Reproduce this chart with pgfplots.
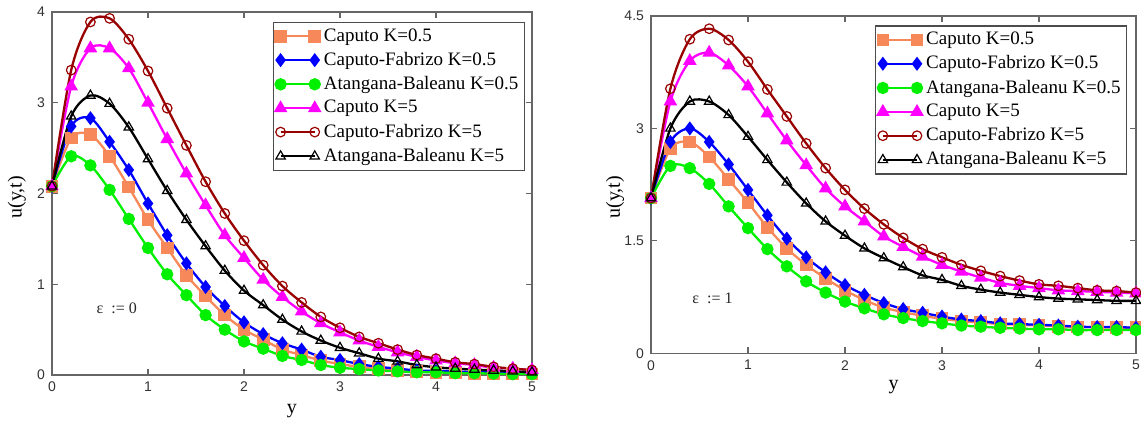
\documentclass[border=0pt]{standalone}
\usepackage{fontspec}
\setmainfont{Liberation Serif}
\newfontfamily\ticksans{Liberation Sans}
\usepackage{pgfplots}
\pgfplotsset{compat=1.18}
\usepackage{pgfplotstable}

\definecolor{corange}{HTML}{F7885A}
\definecolor{cblue}{HTML}{0000FF}
\definecolor{cgreen}{HTML}{00F000}
\definecolor{cmag}{HTML}{FF00FF}
\definecolor{cbrown}{HTML}{990000}

\pgfplotstableread{
x    c05   cf05  ab05  c5    cf5   ab5
0.0  2.08  2.08  2.08  2.08  2.08  2.08
0.2  2.61  2.74  2.41  3.18  3.36  2.85
0.4  2.65  2.83  2.31  3.60  3.89  3.08
0.6  2.41  2.57  2.04  3.60  3.93  2.99
0.8  2.07  2.26  1.72  3.38  3.70  2.73
1.0  1.71  1.89  1.40  3.00  3.35  2.38
1.2  1.40  1.54  1.11  2.60  2.94  2.03
1.4  1.10  1.23  0.88  2.22  2.53  1.71
1.6  0.87  0.97  0.66  1.87  2.13  1.42
1.8  0.66  0.76  0.50  1.54  1.78  1.15
2.0  0.50  0.58  0.37  1.29  1.48  0.93
2.2  0.39  0.45  0.29  1.05  1.21  0.77
2.4  0.28  0.35  0.21  0.86  0.98  0.61
2.6  0.22  0.28  0.165 0.70  0.80  0.48
2.8  0.16  0.20  0.11  0.57  0.64  0.38
3.0  0.12  0.165 0.08  0.47  0.52  0.30
3.2  0.09  0.12  0.065 0.38  0.42  0.24
3.4  0.07  0.09  0.05  0.31  0.35  0.18
3.6  0.05  0.07  0.04  0.25  0.28  0.15
3.8  0.04  0.05  0.03  0.20  0.22  0.11
4.0  0.03  0.045 0.03  0.16  0.18  0.085
4.2  0.03  0.04  0.02  0.13  0.14  0.07
4.4  0.02  0.03  0.02  0.11  0.12  0.06
4.6  0.02  0.03  0.015 0.08  0.09  0.05
4.8  0.02  0.02  0.01  0.07  0.07  0.04
5.0  0.01  0.02  0.01  0.055 0.055 0.03
}\lefttab

\pgfplotstableread{
x    c05   cf05  ab05  c5    cf5   ab5
0.0  2.07  2.07  2.07  2.07  2.07  2.07
0.2  2.73  2.82  2.50  3.36  3.53  3.00
0.4  2.82  3.00  2.47  3.90  4.19  3.36
0.6  2.62  2.82  2.26  4.01  4.33  3.36
0.8  2.32  2.52  1.96  3.84  4.18  3.18
1.0  2.01  2.18  1.67  3.56  3.89  2.89
1.2  1.68  1.84  1.39  3.20  3.52  2.58
1.4  1.40  1.53  1.16  2.84  3.16  2.28
1.6  1.18  1.28  0.96  2.51  2.80  2.00
1.8  1.00  1.08  0.81  2.20  2.47  1.76
2.0  0.84  0.91  0.69  1.96  2.18  1.57
2.2  0.71  0.78  0.60  1.76  1.93  1.40
2.4  0.61  0.67  0.52  1.56  1.72  1.27
2.6  0.55  0.59  0.47  1.42  1.54  1.15
2.8  0.50  0.54  0.43  1.29  1.39  1.04
3.0  0.46  0.49  0.40  1.18  1.28  0.98
3.2  0.43  0.45  0.37  1.09  1.18  0.90
3.4  0.41  0.43  0.355 1.01  1.10  0.85
3.6  0.39  0.40  0.34  0.94  1.03  0.81
3.8  0.38  0.39  0.33  0.90  0.97  0.78
4.0  0.37  0.38  0.32  0.87  0.92  0.75
4.2  0.36  0.37  0.32  0.84  0.90  0.73
4.4  0.35  0.355 0.31  0.83  0.87  0.72
4.6  0.35  0.35  0.31  0.82  0.84  0.71
4.8  0.34  0.35  0.31  0.81  0.83  0.70
5.0  0.34  0.34  0.31  0.80  0.81  0.70
}\righttab

\pgfplotsset{
  myaxis/.style={
    scale only axis, xmin=0, xmax=5, ymin=0,
    axis line style={black!60, line width=0.6pt},
    tick align=inside, major tick length=3pt,
    tick style={black!60, line width=0.6pt},
    xtick={0,...,5},
    /pgf/number format/assume math mode=true,
    ticklabel style={font=\ticksans\fontsize{7}{8.5}\selectfont, text=black!80},
    label style={font=\fontsize{8.5}{10}\selectfont, text=black!85},
    xlabel={y}, ylabel={u(y,t)},
    every axis x label/.style={at={(axis description cs:0.5,-0.1)},anchor=center},
    legend style={font=\fontsize{9.5}{11.5}\selectfont, draw=black!70, line width=0.6pt,
      inner sep=1pt, cells={anchor=west}, anchor=north west},
    legend cell align=left,
    legend image code/.code={\draw plot coordinates {(0cm,0cm) (0.6cm,0cm)};},
    every axis plot/.append style={line width=1.15pt, smooth},
  },
  s1/.style={color=corange, mark=square*, mark size=2.6pt, mark options={solid}},
  s2/.style={color=cblue, mark=diamond*, mark size=2.6pt, mark options={solid}},
  s3/.style={color=cgreen, mark=*, mark size=2.5pt, mark options={solid}},
  s4/.style={color=cmag, mark=triangle*, mark size=2.8pt, mark options={solid}},
  s5/.style={color=cbrown, mark=o, mark size=2.4pt, mark options={solid, line width=0.6pt}},
  s6/.style={color=black, mark=triangle, mark size=2.7pt, mark options={solid, line width=0.6pt}},
}

\begin{document}
\begin{tikzpicture}
\useasboundingbox (0,0) rectangle (570.5pt,211.5pt);
\begin{axis}[myaxis, at={(26pt,24pt)}, anchor=south west,
  width=240pt, height=181.5pt, ymax=4, ytick={0,1,2,3,4},
  every axis y label/.style={at={(axis description cs:-0.073,0.49)},anchor=center,rotate=90},
  legend style={at={(axis description cs:0.46,0.973)}}]
\addplot[s1] table[x=x,y=c05] {\lefttab};
\addlegendentry{Caputo K=0.5}
\addplot[s2] table[x=x,y=cf05] {\lefttab};
\addlegendentry{Caputo-Fabrizo K=0.5}
\addplot[s3] table[x=x,y=ab05] {\lefttab};
\addlegendentry{Atangana-Baleanu K=0.5}
\addplot[s4] table[x=x,y=c5] {\lefttab};
\addlegendentry{Caputo K=5}
\addplot[s5] table[x=x,y=cf5] {\lefttab};
\addlegendentry{Caputo-Fabrizo K=5}
\addplot[s6] table[x=x,y=ab5] {\lefttab};
\addlegendentry{Atangana-Baleanu K=5}
\node[font=\fontsize{8}{9}\selectfont, text=black!85] at (axis cs:0.674,0.74) {ε \ := 0};
\end{axis}
\begin{axis}[myaxis, at={(325.5pt,34.85pt)}, anchor=south west,
  width=242.5pt, height=168.65pt, ymax=4.5, ytick={0,1.5,3,4.5},
  every axis y label/.style={at={(axis description cs:-0.074,0.463)},anchor=center,rotate=90},
  legend style={at={(axis description cs:0.462,0.972)}}]
\addplot[s1] table[x=x,y=c05] {\righttab};
\addlegendentry{Caputo K=0.5}
\addplot[s2] table[x=x,y=cf05] {\righttab};
\addlegendentry{Caputo-Fabrizo K=0.5}
\addplot[s3] table[x=x,y=ab05] {\righttab};
\addlegendentry{Atangana-Baleanu K=0.5}
\addplot[s4] table[x=x,y=c5] {\righttab};
\addlegendentry{Caputo K=5}
\addplot[s5] table[x=x,y=cf5] {\righttab};
\addlegendentry{Caputo-Fabrizo K=5}
\addplot[s6] table[x=x,y=ab5] {\righttab};
\addlegendentry{Atangana-Baleanu K=5}
\node[font=\fontsize{8}{9}\selectfont, text=black!85] at (axis cs:0.634,0.74) {ε \ := 1};
\end{axis}
\end{tikzpicture}
\end{document}
